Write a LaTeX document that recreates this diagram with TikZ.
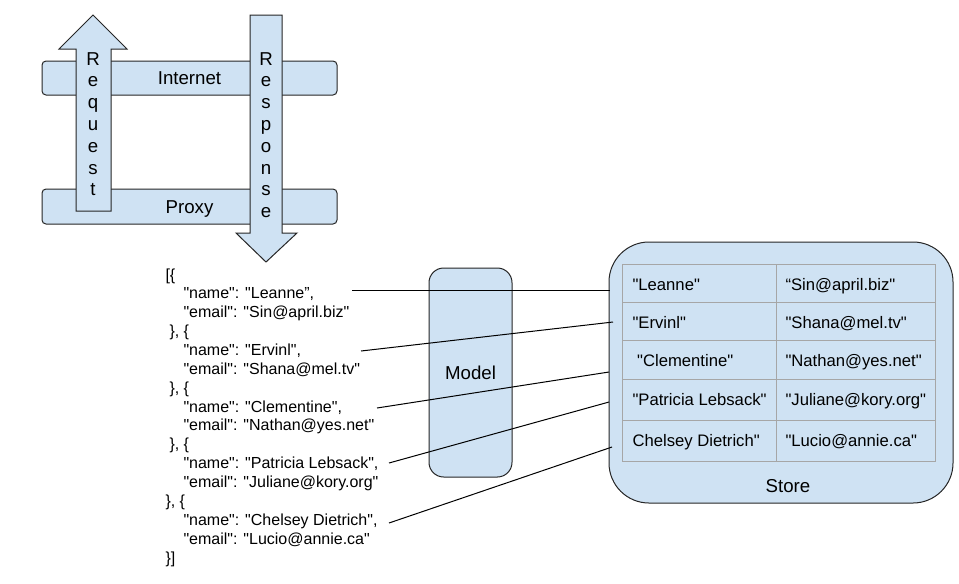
\documentclass[tikz,border=0pt]{standalone}
\usepackage{fontspec}
\newfontfamily\drawfont{Liberation Sans}
\definecolor{boxblue}{HTML}{CFE2F3}
\definecolor{gridgray}{HTML}{A6A6A6}

\begin{document}
\begin{tikzpicture}[x=0.75pt,y=-0.75pt,line width=0.75pt,
  shape box/.style={draw=black!85,fill=boxblue},
  bar node/.style={shape box,rounded corners=3pt,minimum width=221.25pt,
    inner sep=0pt,text height=10pt,text depth=0pt,
    font=\drawfont\fontsize{14}{16}\selectfont},
  letter/.style={anchor=base,inner sep=0pt,
    font=\drawfont\fontsize{14}{16}\selectfont},
  json line/.style={anchor=base west,inner sep=0pt,
    font=\drawfont\fontsize{12}{14}\selectfont},
  cell/.style={anchor=base west,inner sep=0pt,
    font=\drawfont\fontsize{12.5}{15}\selectfont},
  link/.style={draw=black}]

  \useasboundingbox (0,0) rectangle (959,583);

  % the two layers
  \node[bar node,minimum height=25.5pt] (internet) at (189.5,78) {Internet};
  \node[bar node,minimum height=26.25pt] (proxy) at (189.5,206.5) {Proxy};

  % request goes up, response comes down
  \draw[shape box] (76,211) -- (76,49) -- (59,49) -- (93,15) -- (127,49)
    -- (111,49) -- (111,211) -- cycle;
  \draw[shape box] (250,15) -- (282,15) -- (282,233) -- (297,233)
    -- (266,262) -- (236,233) -- (250,233) -- cycle;
  \foreach \c [count=\k] in {R,e,q,u,e,s,t}
    \node[letter] (req\k) at (93,{65+21.8*(\k-1)}) {\c};
  \foreach \c [count=\k] in {R,e,s,p,o,n,s,e}
    \node[letter] (resp\k) at (266,{65+21.8*(\k-1)}) {\c};

  % payload
  \foreach \jx/\txt [count=\i] in {
      165/{[\{},
      183/{"name": "Leanne”,},
      183/{"email": "Sin@april.biz"},
      169/{\}, \{},
      183/{"name": "Ervinl",},
      183/{"email": "Shana@mel.tv"},
      169/{\}, \{},
      183/{"name": "Clementine",},
      183/{"email": "Nathan@yes.net"},
      169/{\}, \{},
      183/{"name": "Patricia Lebsack",},
      183/{"email": "Juliane@kory.org"},
      165/{\}, \{},
      183/{"name": "Chelsey Dietrich",},
      183/{"email": "Lucio@annie.ca"},
      165/{\}]}}
    \node[json line] (json\i) at (\jx,{280+18.87*(\i-1)}) {\txt};

  \node[shape box,rounded corners=11pt,minimum width=62.25pt,
    minimum height=156.75pt,font=\drawfont\fontsize{14}{16}\selectfont]
    (model) at (470.5,372.5) {Model};

  % store with its table
  \node[shape box,rounded corners=30pt,minimum width=258pt,
    minimum height=195.75pt] (store) at (781,372.5) {};
  \node[letter] (storelabel) at (788,492) {Store};

  \draw[gridgray] (622,264) rectangle (935,461);
  \foreach \yy in {302,340,379,420}
    \draw[gridgray] (622,\yy) -- (935,\yy);
  \draw[gridgray] (776,264) -- (776,461);

  \foreach \who/\mail/\yy [count=\r] in {
      {"Leanne"}/{“Sin@april.biz"}/290,
      {"Ervinl"}/{"Shana@mel.tv"}/328,
      {\ "Clementine"}/{"Nathan@yes.net"}/366,
      {"Patricia Lebsack"}/{"Juliane@kory.org"}/405,
      {Chelsey Dietrich"}/{"Lucio@annie.ca"}/446}
  {
    \node[cell] (name\r) at (632,\yy) {\who};
    \node[cell] (mail\r) at (785,\yy) {\mail};
  }

  % records to rows
  \coordinate (a1) at (352,290); \coordinate (b1) at (610,290);
  \coordinate (a2) at (361,351); \coordinate (b2) at (613,322);
  \coordinate (a3) at (377,408); \coordinate (b3) at (609,372);
  \coordinate (a4) at (389,463); \coordinate (b4) at (609,402);
  \coordinate (a5) at (389,523); \coordinate (b5) at (612,447);
  \foreach \k in {1,...,5}
    \draw[link] (a\k) -- (b\k);
\end{tikzpicture}
\end{document}
